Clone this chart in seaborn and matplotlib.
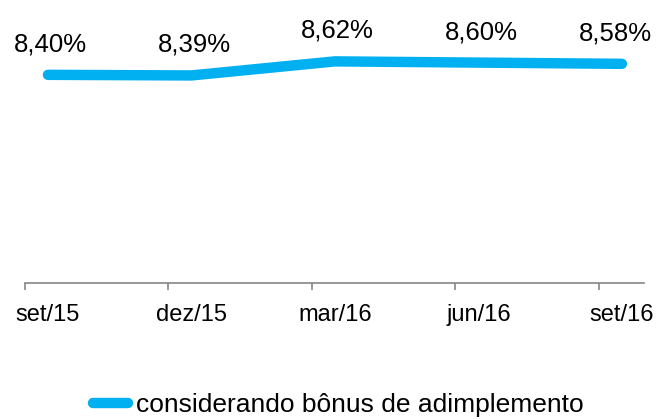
import seaborn as sns
import matplotlib.pyplot as plt
import pandas as pd

# data
meses = ['set/15', 'dez/15', 'mar/16', 'jun/16', 'set/16']
valores = [8.40, 8.39, 8.62, 8.60, 8.58]
rotulos = ['8,40%', '8,39%', '8,62%', '8,60%', '8,58%']
serie = 'considerando bônus de adimplemento'

df = pd.DataFrame({'pos': range(len(meses)), 'valor': valores})

sns.set_style('white')
plt.rcParams['font.family'] = ['Liberation Sans', 'DejaVu Sans']
plt.rcParams['text.color'] = 'black'
plt.rcParams['xtick.color'] = 'black'

fig = plt.figure(figsize=(6.57, 4.19), dpi=100)
ax = fig.add_axes([0.038, 0.325, 0.942, 0.584])

azul = '#00B0F0'
sns.lineplot(data=df, x='pos', y='valor', ax=ax, color=azul, linewidth=7.5,
             solid_capstyle='round', label=serie, legend=False)

# last label is pushed left in the original so it stays inside
dx = [2, 2, 2, 2, -5]
for x, y, t, d in zip(df['pos'], df['valor'], rotulos, dx):
    ax.annotate(t, (x, y), xytext=(d, 22), textcoords='offset points',
                ha='center', va='center', fontsize=18.5, color='black')

ax.set_ylim(5, 9)
ax.set_xlim(-0.16, 4.153)
ax.set_xticks(range(len(meses)))
ax.set_xticklabels(meses, fontsize=17)
ax.set_xticks([-0.16, 0.84, 1.84, 2.84, 3.84], minor=True)
ax.tick_params(axis='x', which='major', length=0, pad=15, labelcolor='black')
ax.tick_params(axis='x', which='minor', bottom=True, length=5, width=1.2,
               color='#868686', direction='out')
ax.set_yticks([])
ax.set_xlabel('')
ax.set_ylabel('')
for s in ['top', 'right', 'left']:
    ax.spines[s].set_visible(False)
ax.spines['bottom'].set_color('#868686')
ax.spines['bottom'].set_linewidth(1.2)

h, l = ax.get_legend_handles_labels()
fig.legend(h, l, loc='center', bbox_to_anchor=(0.515, 0.034), frameon=False,
           fontsize=19, handlelength=1.3, handletextpad=0.3)

fig.savefig('out.png', dpi=100)
